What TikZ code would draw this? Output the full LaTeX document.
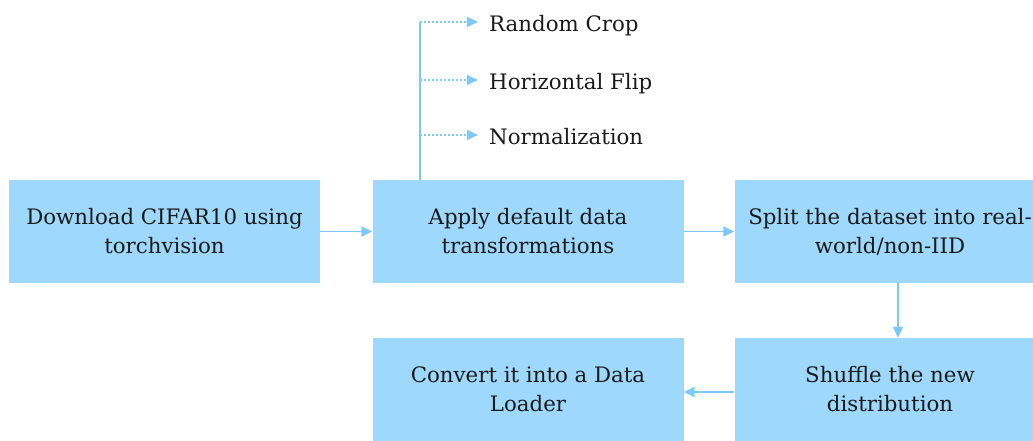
\documentclass[tikz,border=0pt]{standalone}
\usepackage{fontspec}
\setmainfont{DejaVu Serif}
\usetikzlibrary{arrows.meta}
\definecolor{boxfill}{HTML}{9ED8FC}
\definecolor{flow}{HTML}{7CC8F7}
\definecolor{ink}{HTML}{1A1A1A}
\tikzset{
  stepbox/.style={fill=boxfill, draw=none, minimum width=311pt, minimum height=103pt,
    align=center, text=ink, font=\fontsize{21.3}{29}\selectfont, inner sep=0pt},
  flowline/.style={draw=flow, line width=1.5pt, -{Triangle[length=11pt,width=10pt]}},
  branch/.style={draw=flow, line width=1.2pt, dash pattern=on 2pt off 2pt,
    -{Triangle[length=11pt,width=10pt]}},
  stem/.style={draw=flow, line width=1.5pt},
  label/.style={anchor=base west, inner sep=0pt, text=ink, font=\fontsize{21.3}{29}\selectfont}
}
\begin{document}
\begin{tikzpicture}[x=1pt,y=1pt]
  \useasboundingbox (0,0) rectangle (1033,440);
  \begin{scope}
    \clip (0,0) rectangle (1033,440);
    % main pipeline boxes
    \node[stepbox] (dl) at (164.5,208.5) {Download CIFAR10 using\\torchvision};
    \node[stepbox] (tf) at (528,208.5) {Apply default data\\transformations};
    \node[stepbox] (sp) at (890,208.5) {Split the dataset into real-\\world/non-IID};
    \node[stepbox] (sh) at (890,50.5) {Shuffle the new\\distribution};
    \node[stepbox] (dlr) at (528,50.5) {Convert it into a Data\\Loader};
  \end{scope}
  % transformation list
  \node[label] (rc) at (489,408) {Random Crop};
  \node[label] (hf) at (489,350) {Horizontal Flip};
  \node[label] (nm) at (489,295) {Normalization};
  \coordinate (t1) at (420,418);
  \coordinate (t2) at (420,360);
  \coordinate (t3) at (420,305);
  \draw[stem] (tf.north -| t1) -- (t1);
  \draw[branch, shorten >=11pt] (t1) -- (t1 -| rc.west);
  \draw[branch, shorten >=11pt] (t2) -- (t2 -| hf.west);
  \draw[branch, shorten >=11pt] (t3) -- (t3 -| nm.west);
  % connectors
  \draw[flowline] (dl.east) -- (tf.west);
  \draw[flowline] (tf.east) -- (sp.west);
  \draw[flowline] (sp.south -| 898,0) -- (sh.north -| 898,0);
  \draw[flowline] (sh.west |- 0,48) -- (dlr.east |- 0,48);
\end{tikzpicture}
\end{document}
